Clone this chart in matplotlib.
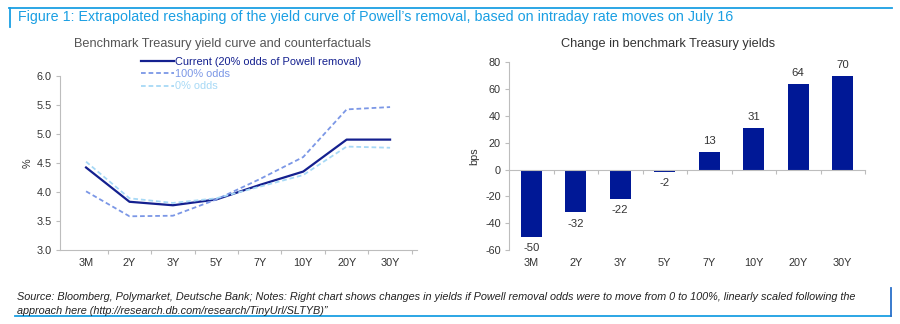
import numpy as np
import matplotlib.pyplot as plt
from matplotlib.lines import Line2D

plt.rcParams["font.family"] = ["Liberation Sans", "DejaVu Sans"]
plt.rcParams["axes.unicode_minus"] = False

# tenors and yields (%)
tenors = ["3M", "2Y", "3Y", "5Y", "7Y", "10Y", "20Y", "30Y"]
current = [4.42, 3.83, 3.77, 3.87, 4.12, 4.35, 4.90, 4.90]
odds_100 = [4.01, 3.58, 3.59, 3.87, 4.22, 4.60, 5.42, 5.46]
odds_0 = [4.52, 3.89, 3.81, 3.89, 4.09, 4.29, 4.78, 4.76]

# change in yields, bps
change_bps = [-50, -32, -22, -2, 13, 31, 64, 70]

DB_BLUE = "#1a9fe3"
NAVY = "#14208f"
MID_BLUE = "#7b97e6"
LIGHT_BLUE = "#a7d9f6"
BAR_BLUE = "#001896"
AXIS_GREY = "#bdbdbd"
TEXT = "#333333"

fig = plt.figure(figsize=(9, 3.24), dpi=100)
W, H = 900, 324


def fx(px):
    return px / W


def fy(py):
    return 1 - py / H


def style_axes(ax):
    for s in ["top", "right"]:
        ax.spines[s].set_visible(False)
    for s in ["left", "bottom"]:
        ax.spines[s].set_color(AXIS_GREY)
        ax.spines[s].set_linewidth(0.8)
    ax.tick_params(axis="y", colors=AXIS_GREY, labelcolor=TEXT, labelsize=7.8,
                   length=3, width=0.8, pad=3)
    ax.tick_params(axis="x", which="major", length=0, labelsize=7.8,
                   labelcolor=TEXT, pad=6)
    ax.tick_params(axis="x", which="minor", colors=AXIS_GREY, length=3, width=0.8)


x = np.arange(len(tenors))
dash = (0, (2.6, 1.6))

# ---- left: yield curve and counterfactuals
ax1 = fig.add_axes([fx(60), fy(250), fx(417 - 60), fy(75.7) - fy(250)])
l1, = ax1.plot(x, current, color=NAVY, lw=1.6, label="Current (20% odds of Powell removal)")
l2, = ax1.plot(x, odds_100, color=MID_BLUE, lw=1.3, ls=dash, label="100% odds")
l3, = ax1.plot(x, odds_0, color=LIGHT_BLUE, lw=1.3, ls=dash, label="0% odds")
ax1.set_xlim(-0.6, 7.62)
ax1.set_ylim(3.0, 6.0)
ax1.set_yticks(np.arange(3.0, 6.01, 0.5))
ax1.set_yticklabels([f"{v:.1f}" for v in np.arange(3.0, 6.01, 0.5)])
ax1.set_xticks(x)
ax1.set_xticklabels(tenors)
ax1.set_xticks(np.arange(0.5, 7.6, 1), minor=True)
style_axes(ax1)
ax1.set_ylabel("%", fontsize=7.8, color=TEXT, labelpad=3)

leg = ax1.legend(handles=[l1, l2, l3], loc="upper left",
                 bbox_to_anchor=(fx(141), fy(57)), bbox_transform=fig.transFigure,
                 frameon=False, fontsize=7.9, handlelength=3.0, handletextpad=0.1,
                 labelspacing=0.2, borderpad=0, borderaxespad=0)
for txt, col in zip(leg.get_texts(), [NAVY, MID_BLUE, LIGHT_BLUE]):
    txt.set_color(col)

# ---- right: change in yields
ax2 = fig.add_axes([fx(509), fy(250), fx(865 - 509), fy(62.3) - fy(250)])
bars = ax2.bar(x, change_bps, width=0.48, color=BAR_BLUE)
ax2.set_xlim(-0.5, 7.5)
ax2.set_ylim(-60, 80)
ax2.set_yticks(np.arange(-60, 81, 20))
style_axes(ax2)
ax2.spines["bottom"].set_position(("data", 0))
ax2.set_xticks([])
ax2.set_xticks(np.arange(0.5, 7.6, 1), minor=True)
sec = ax2.secondary_xaxis(0)
sec.set_xticks(x)
sec.set_xticklabels(tenors)
sec.tick_params(length=0, labelsize=7.8, labelcolor=TEXT, pad=6)
sec.spines["bottom"].set_visible(False)
ax2.set_ylabel("bps", fontsize=7.8, color=TEXT, labelpad=4)

for xi, v in zip(x, change_bps):
    ax2.annotate(f"{v}", (xi, v), xytext=(0, 8 if v >= 0 else -8),
                 textcoords="offset points", ha="center", va="center",
                 fontsize=8.2, color=TEXT)

# ---- titles, footer and frame lines
fig.text(fx(222), fy(44), "Benchmark Treasury yield curve and counterfactuals",
         ha="center", va="center", fontsize=9.2, color="#555555")
fig.text(fx(668), fy(44), "Change in benchmark Treasury yields",
         ha="center", va="center", fontsize=9.2, color="#333333")

fig.text(fx(18), fy(17.5),
         "Figure 1: Extrapolated reshaping of the yield curve of Powell\u2019s removal, "
         "based on intraday rate moves on July 16",
         ha="left", va="center", fontsize=10.3, color=DB_BLUE)

fig.text(fx(17), fy(297),
         "Source: Bloomberg, Polymarket, Deutsche Bank; Notes: Right chart shows changes in yields "
         "if Powell removal odds were to move from 0 to 100%, linearly scaled following the",
         ha="left", va="center", fontsize=7.8, style="italic", color="#222222")
fig.text(fx(17), fy(310.5),
         "approach here (http://research.db.com/research/TinyUrl/SLTYB)\u201d",
         ha="left", va="center", fontsize=7.8, style="italic", color="#222222")

fig.add_artist(Line2D([fx(9), fx(892)], [fy(8), fy(8)], color=DB_BLUE, lw=1.3))
fig.add_artist(Line2D([fx(9.5), fx(9.5)], [fy(8), fy(27)], color=DB_BLUE, lw=1.3))
fig.add_artist(Line2D([fx(15), fx(891)], [fy(316), fy(316)], color=DB_BLUE, lw=1.3))
fig.add_artist(Line2D([fx(891), fx(891)], [fy(288), fy(316)], color="#2a6fc9", lw=1.3))

fig.savefig("out.png", dpi=100)
